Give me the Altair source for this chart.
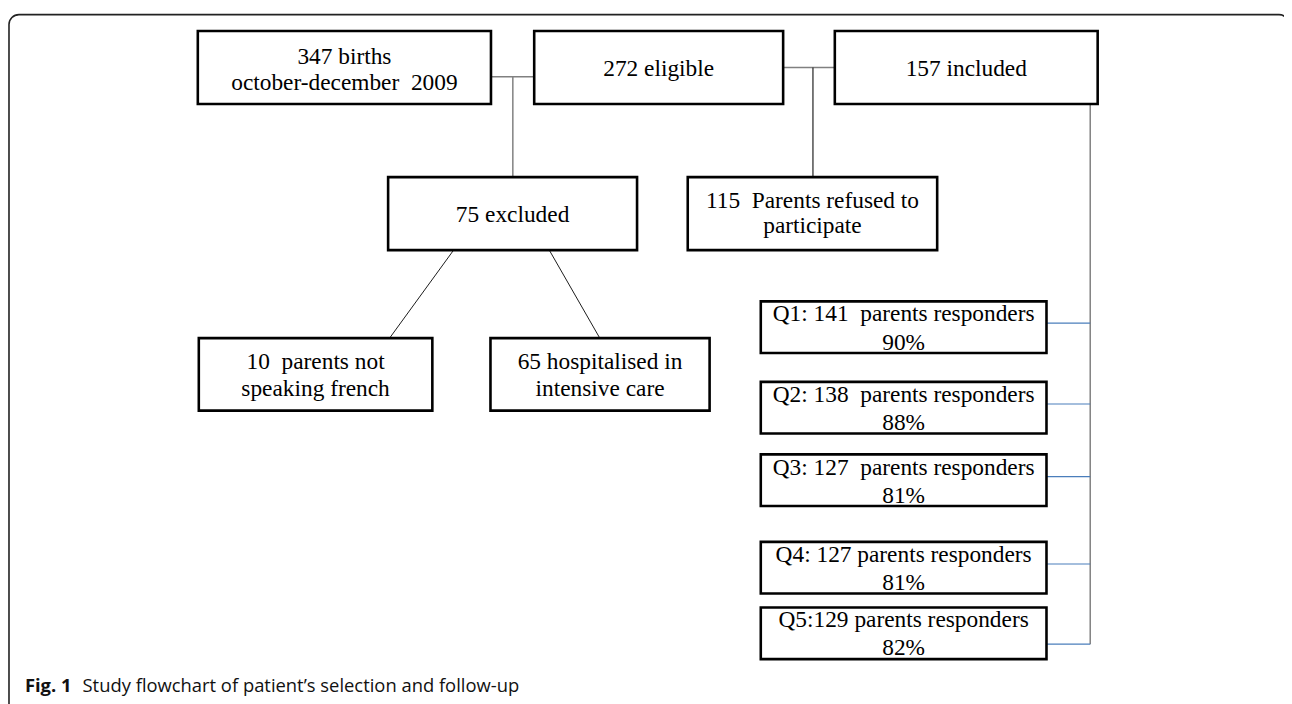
import altair as alt
import pandas as pd

# ---------------- content ----------------
node_names = ["births", "eligible", "included", "excluded", "refused",
              "no_french", "icu", "q1", "q2", "q3", "q4", "q5"]
node_lines = [
    ["347 births", "october-december\u00a0 2009"],
    ["272 eligible"],
    ["157 included"],
    ["75 excluded"],
    ["115\u00a0 Parents refused to", "participate"],
    ["10\u00a0 parents not", "speaking french"],
    ["65 hospitalised in", "intensive care"],
    ["Q1: 141\u00a0 parents responders", "90%"],
    ["Q2: 138\u00a0 parents responders", "88%"],
    ["Q3: 127\u00a0 parents responders", "81%"],
    ["Q4: 127 parents responders", "81%"],
    ["Q5:129 parents responders", "82%"],
]
caption_bold = "Fig. 1"
caption_text = "Study flowchart of patient\u2019s selection and follow-up"

# ---------------- layout (page pixels) ----------------
box_x1 = [199, 537.5, 840, 390.5, 692, 200, 493.5, 765.5, 765.5, 765.5, 765.5, 765.5]
box_x2 = [494, 788, 1104.5, 641, 943, 435, 714, 1053, 1053, 1053, 1053, 1053]
box_y1 = [29, 29, 29, 176, 176, 338, 338, 301, 382, 455, 543, 609]
box_y2 = [102.5, 102.5, 102.5, 249.5, 249.5, 411, 411, 353, 434, 507, 595, 661]
text_cy = [68, 67, 67, 214, 213, 376, 376, 328.5, 409.5, 482.5, 570.5, 636]
line_gap = [26, 0, 0, 0, 25, 27, 27, 28.5, 28.5, 28.5, 28.5, 28.5]

# connectors: (x1, y1, x2, y2)
grey_lines = [(494, 75, 537.5, 75), (516, 75, 516, 176),
              (788, 65.7, 840, 65.7), (1097, 102.5, 1097, 646)]
dark_lines = [(818, 65.7, 818, 176)]
diag_lines = [(456, 250, 392, 338), (553, 250, 603.5, 338)]
q_link_y = [323, 404.3, 477.3, 565.3, 646]
q_link_x = (1053, 1097)

XS = alt.Scale(domain=[8, 1292], nice=False, zero=False)
YS = alt.Scale(domain=[8, 704], nice=False, zero=False, reverse=True)


def seg_df(lines):
    return pd.DataFrame([{"x": a, "y": b, "x2": c, "y2": d} for a, b, c, d in lines])


def rule_layer(df, color, width):
    return alt.Chart(df).mark_rule(color=color, strokeWidth=width).encode(
        x=alt.X("x:Q", scale=XS, axis=None),
        y=alt.Y("y:Q", scale=YS, axis=None),
        x2="x2:Q", y2="y2:Q")


# outer frame
frame = alt.Chart(pd.DataFrame([{"x": 9, "x2": 1297, "y": 12.5, "y2": 740}])).mark_rect(
    fill=None, stroke="#222222", strokeWidth=1.6, cornerRadius=10
).encode(x=alt.X("x:Q", scale=XS, axis=None), x2="x2:Q",
         y=alt.Y("y:Q", scale=YS, axis=None), y2="y2:Q")

grey = rule_layer(seg_df(grey_lines), "#808080", 1.5)
dark = rule_layer(seg_df(dark_lines), "#222222", 1.2)
diag = rule_layer(seg_df(diag_lines), "#000000", 0.9)
blue = rule_layer(seg_df([(q_link_x[0], y, q_link_x[1], y) for y in q_link_y]), "#4a7ebb", 1.2)

boxes_df = pd.DataFrame({"name": node_names, "x": box_x1, "x2": box_x2, "y": box_y1, "y2": box_y2})
boxes = alt.Chart(boxes_df).mark_rect(fill="white", stroke="black", strokeWidth=2.6).encode(
    x=alt.X("x:Q", scale=XS, axis=None), x2="x2:Q",
    y=alt.Y("y:Q", scale=YS, axis=None), y2="y2:Q")

rows = []
for i, lines in enumerate(node_lines):
    n = len(lines)
    cx = (box_x1[i] + box_x2[i]) / 2
    for j, t in enumerate(lines):
        rows.append({"text": t, "x": cx, "y": text_cy[i] + (j - (n - 1) / 2) * line_gap[i]})
texts = alt.Chart(pd.DataFrame(rows)).mark_text(
    font="Liberation Serif", fontSize=23.5, color="black", align="center", baseline="middle"
).encode(x=alt.X("x:Q", scale=XS, axis=None), y=alt.Y("y:Q", scale=YS, axis=None), text="text:N")

cap1 = alt.Chart(pd.DataFrame([{"text": caption_bold, "x": 25, "y": 688}])).mark_text(
    font="Open Sans", fontWeight="bold", fontSize=18.5, color="#111111", align="left", baseline="middle"
).encode(x=alt.X("x:Q", scale=XS, axis=None), y=alt.Y("y:Q", scale=YS, axis=None), text="text:N")
cap2 = alt.Chart(pd.DataFrame([{"text": caption_text, "x": 83, "y": 688}])).mark_text(
    font="Open Sans", fontSize=18.5, color="#111111", align="left", baseline="middle"
).encode(x=alt.X("x:Q", scale=XS, axis=None), y=alt.Y("y:Q", scale=YS, axis=None), text="text:N")

chart = alt.layer(frame, grey, dark, diag, blue, boxes, texts, cap1, cap2).properties(
    width=1284, height=696, padding=0, background="white",
    autosize=alt.AutoSizeParams(type="none")
).configure_view(stroke=None)

chart.save("out.html", embed_options={"renderer": "svg", "actions": False})
